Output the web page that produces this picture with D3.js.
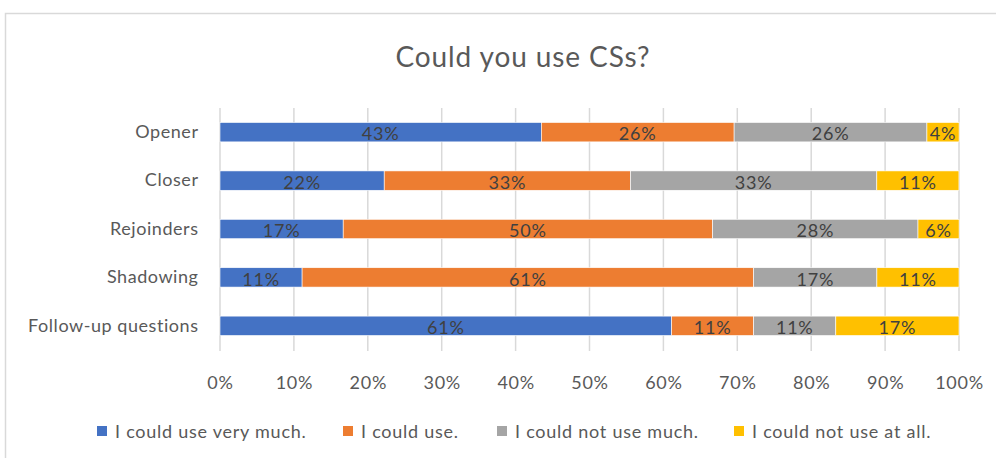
<!DOCTYPE html>
<html>
<head>
<meta charset="utf-8">
<script src="https://cdn.jsdelivr.net/npm/d3@7"></script>
<style>
  html, body { margin: 0; padding: 0; background: #fff; }
  svg { display: block; }
  text { font-family: Lato, "Open Sans", sans-serif; }
</style>
</head>
<body>
<svg id="chart" width="996" height="458"></svg>
<script>
const title = "Could you use CSs?";
const categories = ["Opener", "Closer", "Rejoinders", "Shadowing", "Follow-up questions"];
const seriesNames = ["I could use very much.", "I could use.", "I could not use much.", "I could not use at all."];
const veryMuch = [43.48, 22.22, 16.67, 11.11, 61.11];
const couldUse = [26.09, 33.33, 50.00, 61.11, 11.11];
const notMuch  = [26.09, 33.33, 27.78, 16.67, 11.11];
const notAtAll = [4.35, 11.11, 5.56, 11.11, 16.67];
const tickValues = [0, 10, 20, 30, 40, 50, 60, 70, 80, 90, 100];
const colors = ["#4472c4", "#ed7d31", "#a5a5a5", "#ffc000"];

const svg = d3.select("#chart");

// chart frame
svg.append("rect")
  .attr("x", 5.5).attr("y", 13.5)
  .attr("width", 1000).attr("height", 500)
  .attr("fill", "#fff").attr("stroke", "#d9d9d9").attr("stroke-width", 1.5);

svg.append("text")
  .attr("x", 523).attr("y", 67)
  .attr("text-anchor", "middle")
  .attr("font-size", 28)
  .attr("letter-spacing", "0.9px")
  .attr("fill", "#595959")
  .text(title);

const x = d3.scaleLinear().domain([0, 100]).range([220, 959]);
const y = d3.scaleBand().domain(categories).range([108, 350]).paddingInner(0.6).paddingOuter(0.3);

// gridlines
svg.append("g").selectAll("line").data(tickValues).join("line")
  .attr("x1", d => x(d)).attr("x2", d => x(d))
  .attr("y1", 108).attr("y2", 351)
  .attr("stroke", "#d9d9d9").attr("stroke-width", 1.5);

// x axis labels via d3 axis
const xAxis = d3.axisBottom(x).tickValues(tickValues).tickFormat(d => d + "%").tickSize(0).tickPadding(0);
const gx = svg.append("g").attr("transform", "translate(0,376)").call(xAxis);
gx.select(".domain").remove();
gx.selectAll("text").attr("font-size", 18).attr("letter-spacing", "0.7px")
  .attr("fill", "#595959").attr("font-family", "Lato, sans-serif");

// y axis labels
const yAxis = d3.axisLeft(y).tickSize(0).tickPadding(0);
const gy = svg.append("g").attr("transform", "translate(198.5,0)").call(yAxis);
gy.select(".domain").remove();
gy.selectAll("text").attr("font-size", 18).attr("letter-spacing", "0.55px")
  .attr("fill", "#595959").attr("font-family", "Lato, sans-serif");

// stacked data
const rows = categories.map((c, i) => ({cat: c, s0: veryMuch[i], s1: couldUse[i], s2: notMuch[i], s3: notAtAll[i]}));
const stack = d3.stack().keys(["s0", "s1", "s2", "s3"]);
const layers = stack(rows);

const g = svg.append("g");
layers.forEach((layer, li) => {
  g.append("g").selectAll("rect").data(layer).join("rect")
    .attr("x", d => x(d[0]))
    .attr("y", d => y(d.data.cat))
    .attr("width", d => x(d[1]) - x(d[0]))
    .attr("height", y.bandwidth())
    .attr("fill", colors[li])
    .attr("stroke", "#fff").attr("stroke-width", 0.6);
  g.append("g").selectAll("text").data(layer).join("text")
    .attr("x", d => (x(d[0]) + x(d[1])) / 2)
    .attr("y", d => y(d.data.cat) + y.bandwidth() - 1.5)
    .attr("text-anchor", "middle")
    .attr("font-size", 18)
    .attr("letter-spacing", "0.8px")
    .attr("fill", "#404040")
    .text(d => Math.round(d[1] - d[0]) + "%");
});

// legend
const legendX = [97, 343, 497, 734];
const lg = svg.append("g");
seriesNames.forEach((name, i) => {
  lg.append("rect").attr("x", legendX[i]).attr("y", 426).attr("width", 10).attr("height", 10).attr("fill", colors[i]);
  lg.append("text").attr("x", legendX[i] + 18).attr("y", 437.5)
    .attr("font-size", 18).attr("letter-spacing", "0.75px")
    .attr("fill", "#595959").text(name);
});
</script>
</body>
</html>
